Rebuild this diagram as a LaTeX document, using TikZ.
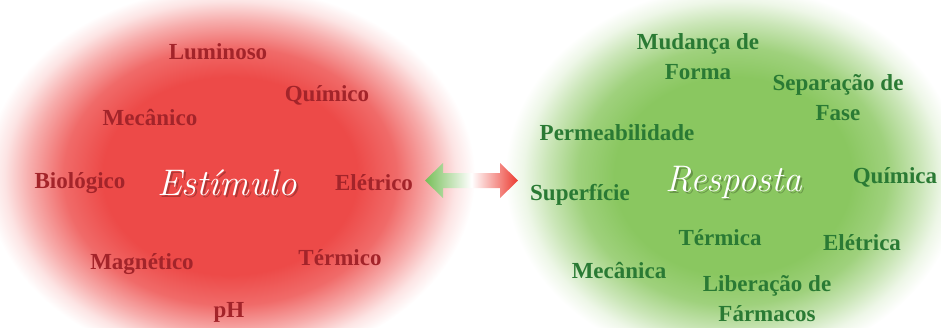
\documentclass[tikz,border=0pt]{standalone}
\usepackage{fontspec}
\setmainfont{Liberation Serif}
\newfontfamily\calli{Latin Modern Roman}

\definecolor{stimred}{RGB}{237,74,72}
\definecolor{stimtext}{RGB}{163,36,42}
\definecolor{respgreen}{RGB}{138,199,96}
\definecolor{resptext}{RGB}{42,122,52}
\definecolor{linkgreen}{RGB}{118,190,88}
\definecolor{linkred}{RGB}{236,58,48}

% soft-edged discs behind the two groups of words (25bp is the path's rim)
\pgfdeclareradialshading{redglow}{\pgfpoint{0bp}{0bp}}{%
  color(0bp)=(stimred); color(13bp)=(stimred); color(17bp)=(stimred!82!white);
  color(20.5bp)=(stimred!45!white); color(23bp)=(stimred!15!white); color(25bp)=(white);
  color(50bp)=(white)}
\pgfdeclareradialshading{greenglow}{\pgfpoint{0bp}{0bp}}{%
  color(0bp)=(respgreen); color(13bp)=(respgreen); color(17bp)=(respgreen!82!white);
  color(20.5bp)=(respgreen!45!white); color(23bp)=(respgreen!15!white); color(25bp)=(white);
  color(50bp)=(white)}

\tikzset{
  word/.style={font=\fontsize{23}{30}\selectfont\bfseries, align=center, inner sep=0pt},
  stimword/.style={word, text=stimtext},
  respword/.style={word, text=resptext},
  title/.style={font=\calli\itshape\fontsize{37}{40}\selectfont, inner sep=0pt},
  titleshadow/.style={title, text=black, opacity=0.25},
  titletext/.style={title, text=white},
  linkarrow/.style={left color=linkgreen, right color=linkred, middle color=white}
}

\begin{document}
\begin{tikzpicture}[x=1pt,y=-1pt]
\useasboundingbox (0,0) rectangle (941,327);

% background discs
\path[shading=redglow] (230,176) ellipse [x radius=245pt, y radius=190pt];
\path[shading=greenglow] (733,176) ellipse [x radius=228pt, y radius=190pt];

% central titles with a soft drop shadow
\node[titleshadow] (stimshadow) at (229,185) {Estímulo};
\node[titletext] (stim) at (227,183) {Estímulo};
\node[titleshadow] (respshadow) at (736,184) {Resposta};
\node[titletext] (resp) at (734,182) {Resposta};

% double arrow between stimulus and response
\path[linkarrow] (425,180.5) -- (443,163) -- (443,173) -- (500,173) -- (500,163)
  -- (518,180.5) -- (500,198) -- (500,188) -- (443,188) -- (443,198) -- cycle;

% stimuli
\node[stimword] (lum) at (218,52) {Luminoso};
\node[stimword] (qui) at (327,95) {Químico};
\node[stimword] (mec) at (150,117) {Mecânico};
\node[stimword] (bio) at (80,183) {Biológico};
\node[stimword] (ele) at (374,183) {Elétrico};
\node[stimword] (mag) at (142,264) {Magnético};
\node[stimword] (ter) at (340,258) {Térmico};
\node[stimword] (ph)  at (229,312) {pH};

% responses
\node[respword] (forma) at (698,57) {Mudança de\\Forma};
\node[respword] (fase) at (838,98) {Separação de\\Fase};
\node[respword] (perm) at (617,133) {Permeabilidade};
\node[respword] (sup) at (580,195) {Superfície};
\node[respword] (quim) at (895,177) {Química};
\node[respword] (term) at (720,238) {Térmica};
\node[respword] (elet) at (862,243) {Elétrica};
\node[respword] (mecan) at (619,270) {Mecânica};
\node[respword] (farm) at (767,299) {Liberação de\\Fármacos};
\end{tikzpicture}
\end{document}
